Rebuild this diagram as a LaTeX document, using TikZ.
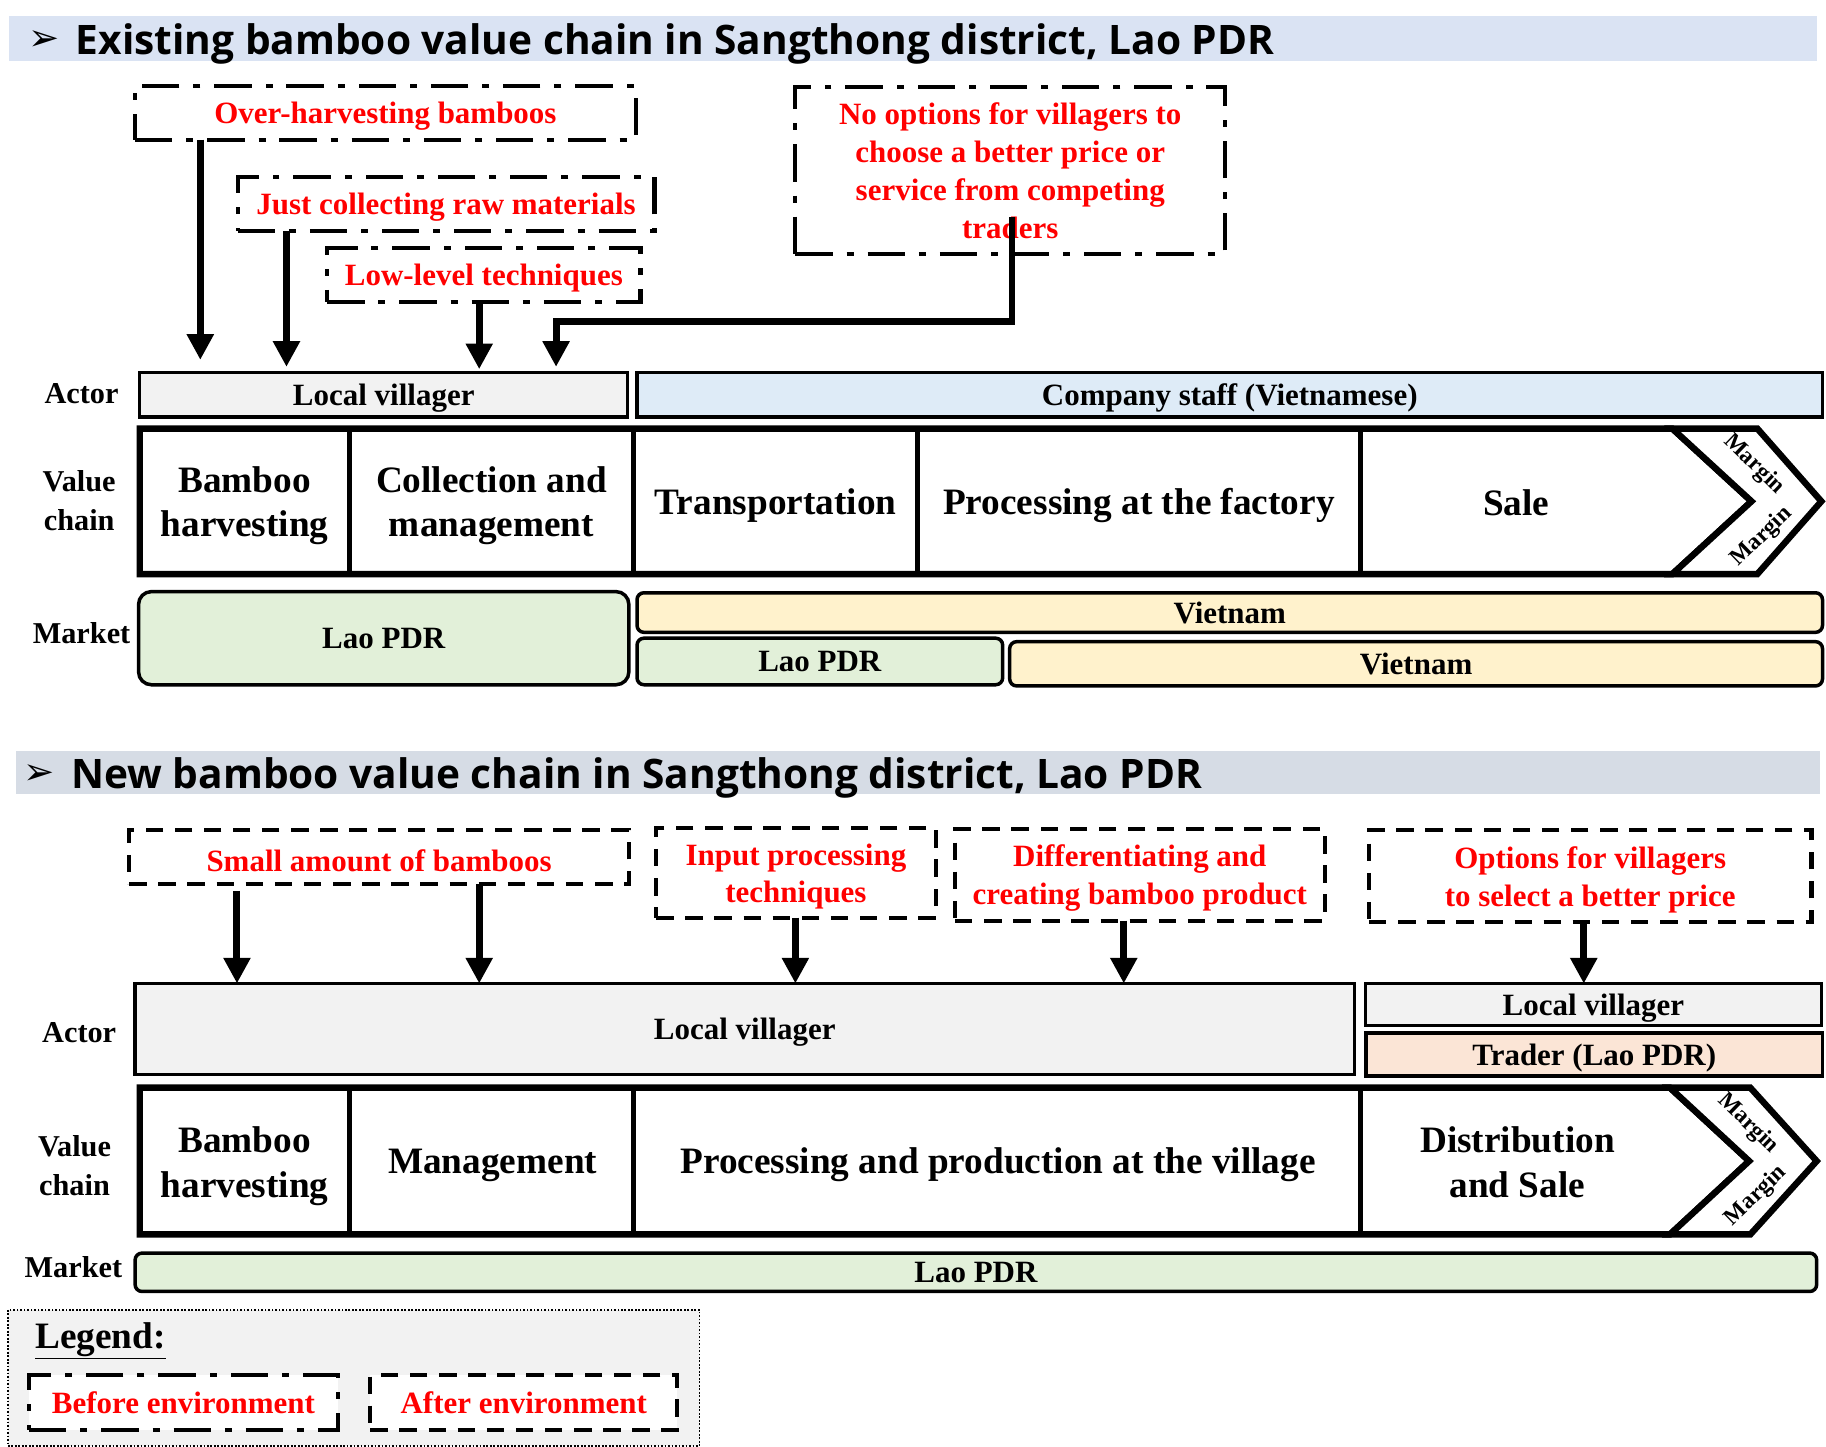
\documentclass[tikz,border=0pt]{standalone}
\usepackage{fontspec}
\setmainfont{Liberation Serif}
\newfontfamily\headfont{Open Sans}
\newfontfamily\symfont{DejaVu Sans}
\usetikzlibrary{arrows.meta}
\definecolor{hdrA}{HTML}{DAE3F3}
\definecolor{hdrB}{HTML}{D6DCE5}
\definecolor{greyfill}{HTML}{F2F2F2}
\definecolor{bluefill}{HTML}{DEEBF7}
\definecolor{greenfill}{HTML}{E2F0D9}
\definecolor{yellowfill}{HTML}{FFF2CC}
\definecolor{peachfill}{HTML}{FBE5D6}
\newcommand\upstrut{\rule{0pt}{0.93em}}
\begin{document}
\begin{tikzpicture}[x=1pt,y=-1pt,
  band/.style={inner sep=0pt, outer sep=0pt, draw=none},
  headtxt/.style={inner sep=0pt, font=\headfont\bfseries\fontsize{34.9}{40}\selectfont},
  headsym/.style={inner sep=0pt, font=\symfont\fontsize{32}{34}\selectfont},
  txt/.style={inner sep=0pt, outer sep=0pt, align=center, font=\bfseries\fontsize{26.6}{32.5}\selectfont},
  dsc/.style={execute at begin node=\upstrut},
  redtxt/.style={txt, text=red},
  bigtxt/.style={inner sep=0pt, align=center, font=\bfseries\fontsize{32}{38}\selectfont},
  bef/.style={redtxt, draw=black, fill=white, line width=3.5pt, dash pattern=on 32pt off 12pt on 6pt off 12pt},
  aft/.style={redtxt, draw=black, fill=white, line width=3.5pt, dash pattern=on 15pt off 10pt},
  actbox/.style={txt, draw, line width=3pt},
  mkt/.style={txt, draw, line width=3pt, rounded corners=6pt},
  arr/.style={-{Triangle[width=22pt,length=22pt]}, line width=6pt, line join=miter},
  vframe/.style={line width=5.5pt, line join=miter},
  vdiv/.style={line width=4pt},
  margintxt/.style={inner sep=0pt, font=\bfseries\fontsize{20}{22}\selectfont},
  sidelbl/.style={inner sep=0pt, align=center, font=\bfseries\fontsize{26}{33}\selectfont},
  legbox/.style={draw, fill=greyfill, line width=1.5pt, dash pattern=on 1.5pt off 1.5pt, inner sep=0pt}
]
\useasboundingbox[fill=white] (0,0) rectangle (1568,1242.5);

% ---------- Header 1 ----------
\node[band, fill=hdrA, minimum width=1552pt, minimum height=38.5pt, anchor=north west] (band1) at (8,14) {};
\node[headsym] (sym1) at (38,35) {➢};
\node[headtxt, anchor=base west] (head1) at (65,47) {Existing bamboo value chain in Sangthong district, Lao PDR};

% ---------- Existing constraint boxes ----------
\node[bef, dsc, minimum width=430pt, minimum height=46pt] (B1) at (331,97) {Over-harvesting bamboos};
\node[bef, dsc, minimum width=358pt, minimum height=46pt] (B2) at (383,175) {Just collecting raw materials};
\node[bef, dsc, minimum width=269pt, minimum height=46pt] (B3) at (415.5,236) {Low-level techniques};
\node[bef, minimum width=369pt, minimum height=143pt] (B4) at (867.5,146.5) {No options for villagers to\\choose a better price or\\service from competing\\traders};

% ---------- Existing actor row ----------
\node[sidelbl] (actorA) at (70,338) {Actor};
\node[actbox, dsc, fill=greyfill, minimum width=419pt, minimum height=38pt] (LV1) at (329.5,339) {Local villager};
\node[actbox, dsc, fill=bluefill, minimum width=1018pt, minimum height=38pt] (CS) at (1056,339) {Company staff (Vietnamese)};

% ---------- Existing arrows ----------
\coordinate (t1) at (172,309);
\coordinate (t2) at (246,315);
\coordinate (t3) at (411.5,317);
\coordinate (s4) at (869,186);
\coordinate (k4) at (477.5,276);
\draw[arr, shorten >=11pt] (B1.south -| t1) -- (t1 |- LV1.north);
\draw[arr, shorten >=5pt] (B2.south -| t2) -- (t2 |- LV1.north);
\draw[arr, shorten >=3pt] (B3.south -| t3) -- (t3 |- LV1.north);
\draw[arr, shorten >=5pt] (s4) |- (k4) -- (k4 |- LV1.north);

% ---------- Existing value chain ----------
\node[sidelbl] (vcA) at (68,430) {Value\\chain};
\draw[vframe] (120,368) -- (1436,368) -- (1504,430.5) -- (1436,493) -- (120,493) -- cycle;
\draw[vdiv] (300,368) -- (300,493);
\draw[vdiv] (544,368) -- (544,493);
\draw[vdiv] (788,368) -- (788,493);
\draw[vdiv] (1168,368) -- (1168,493);
\draw[vframe, fill=white] (1436,368) -- (1509,368) -- (1564,430.5) -- (1509,493) -- (1436,493) -- (1504,430.5) -- cycle;
\node[bigtxt] (v1) at (210,434) {Bamboo\\harvesting};
\node[bigtxt] (v2) at (422,434) {Collection and\\management};
\node[bigtxt] (v3) at (666,434) {Transportation};
\node[bigtxt] (v4) at (978,434) {Processing at the factory};
\node[bigtxt] (v5) at (1302,432) {Sale};
\node[margintxt, rotate=-44] (m1) at (1506,399) {Margin};
\node[margintxt, rotate=44] (m2) at (1513,461) {Margin};

% ---------- Existing market ----------
\node[sidelbl] (mkA) at (70,544) {Market};
\node[mkt, fill=greenfill, rounded corners=11pt, minimum width=421pt, minimum height=80pt] (LP1) at (329.5,548) {Lao PDR};
\node[mkt, fill=yellowfill, minimum width=1018pt, minimum height=34pt] (VN1) at (1056,526) {Vietnam};
\node[mkt, fill=greenfill, minimum width=314pt, minimum height=40pt] (LP2) at (704,568) {Lao PDR};
\node[mkt, fill=yellowfill, minimum width=698pt, minimum height=38pt] (VN2) at (1216,570) {Vietnam};

% ---------- Header 2 ----------
\node[band, fill=hdrB, minimum width=1549.5pt, minimum height=36.5pt, anchor=north west] (band2) at (13.5,645) {};
\node[headsym] (sym2) at (34,665) {➢};
\node[headtxt, anchor=base west] (head2) at (61,677) {New bamboo value chain in Sangthong district, Lao PDR};

% ---------- New constraint boxes ----------
\node[aft, dsc, minimum width=429pt, minimum height=46pt] (S1) at (325.5,736) {Small amount of bamboos};
\node[aft, minimum width=240pt, minimum height=77pt] (S2) at (683.5,749.5) {\upstrut Input processing\\techniques};
\node[aft, minimum width=317.5pt, minimum height=78.5pt] (S3) at (978.75,751.25) {\upstrut Differentiating and\\creating bamboo product};
\node[aft, minimum width=380pt, minimum height=78.5pt] (S4) at (1365.5,752.25) {\upstrut Options for villagers\\to select a better price};

% ---------- New actor row ----------
\node[sidelbl] (actorB) at (68,887) {Actor};
\node[actbox, dsc, fill=greyfill, minimum width=1047pt, minimum height=78pt] (LV2) at (639.5,883.5) {Local villager};
\node[actbox, dsc, fill=greyfill, minimum width=391.5pt, minimum height=36pt] (LV3) at (1368.25,862.6) {Local villager};
\node[actbox, dsc, fill=peachfill, minimum width=392pt, minimum height=37pt] (TR) at (1369,905.5) {Trader (Lao PDR)};

% ---------- New arrows ----------
\coordinate (u1) at (203.5,846);
\coordinate (u2) at (411.5,843);
\coordinate (u3) at (683,843);
\coordinate (u4) at (965,843);
\coordinate (u5) at (1360,843);
\draw[arr, shorten <=6pt] (S1.south -| u1) -- (u1 |- LV2.north);
\draw[arr] (S1.south -| u2) -- (u2 |- LV2.north);
\draw[arr] (S2.south -| u3) -- (u3 |- LV2.north);
\draw[arr] (S3.south -| u4) -- (u4 |- LV2.north);
\draw[arr] (S4.south -| u5) -- (u5 |- LV3.north);

% ---------- New value chain ----------
\node[sidelbl] (vcB) at (64,1001) {Value\\chain};
\draw[vframe] (120,934) -- (1434,934) -- (1502,997) -- (1434,1060) -- (120,1060) -- cycle;
\draw[vdiv] (300,934) -- (300,1060);
\draw[vdiv] (544,934) -- (544,1060);
\draw[vdiv] (1168,934) -- (1168,1060);
\draw[vframe, fill=white] (1434,934) -- (1503,934) -- (1560,997) -- (1503,1060) -- (1434,1060) -- (1502,997) -- cycle;
\node[bigtxt] (w1) at (210,1001.5) {Bamboo\\harvesting};
\node[bigtxt] (w2) at (423,1001) {Management};
\node[bigtxt] (w3) at (857,1000) {Processing and production at the village};
\node[bigtxt] (w4) at (1303,998) {Distribution\\and Sale};
\node[margintxt, rotate=-44] (m3) at (1501,965) {Margin};
\node[margintxt, rotate=44] (m4) at (1508,1027) {Margin};

% ---------- New market ----------
\node[sidelbl] (mkB) at (63,1088) {Market};
\node[mkt, fill=greenfill, minimum width=1444pt, minimum height=33pt] (LP3) at (838,1092.5) {Lao PDR};

% ---------- Legend ----------
\node[legbox, minimum width=594pt, minimum height=117pt, anchor=north west] (leg) at (6,1124) {};
\node[inner sep=0pt, font=\bfseries\fontsize{32}{36}\selectfont, anchor=base west] (legt) at (30,1158) {\underline{Legend:}};
\node[bef, minimum width=265pt, minimum height=47pt] (LB) at (157.5,1204.5) {Before environment};
\node[aft, minimum width=263.5pt, minimum height=47pt] (LA) at (449.75,1204.5) {After environment};
\end{tikzpicture}
\end{document}
